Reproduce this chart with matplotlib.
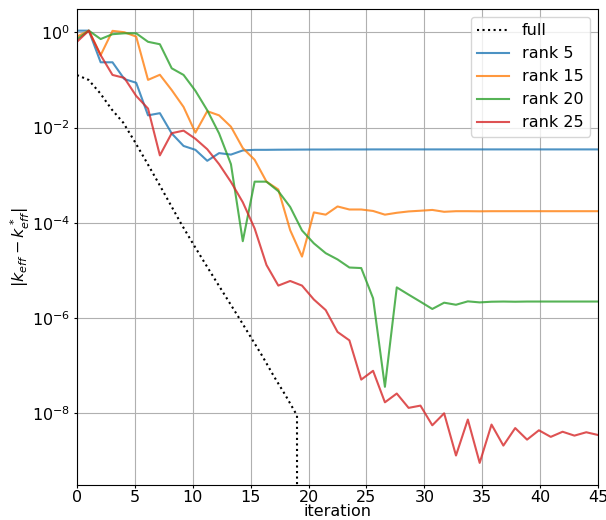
import matplotlib
matplotlib.use("Agg")
import matplotlib.pyplot as plt
import numpy as np

# iterations of the full solve (last entry hits exactly zero)
it_full = np.arange(21)
err_full = [0.126, 0.1, 0.0525, 0.024, 0.0126, 0.005, 0.0019, 7.1e-4, 2.6e-4, 9.5e-5,
            3.7e-5, 1.48e-5, 6.0e-6, 2.45e-6, 1.0e-6, 4.0e-7, 1.6e-7, 6.0e-8, 2.4e-8,
            9.0e-9, 0.0]

# low-rank runs share one x grid
it_rank = np.linspace(0, 45, 45)

err_r5 = [1.08, 1.08, 0.234, 0.234, 0.104, 0.087, 0.018, 0.020, 0.0075, 0.0041,
          0.0034, 0.0020, 0.0029, 0.0027, 0.0033, 0.0034, 0.0034, 0.00342, 0.00343,
          0.00344, 0.00345, 0.00345, 0.00346, 0.00346, 0.00346, 0.00347, 0.00347,
          0.00347, 0.00347, 0.00347, 0.00347, 0.00347, 0.00347, 0.00347, 0.00347,
          0.00347, 0.00347, 0.00347, 0.00347, 0.00347, 0.00347, 0.00347, 0.00347,
          0.00347, 0.00347]

err_r15 = [0.81, 1.08, 0.33, 1.07, 1.0, 0.81, 0.10, 0.128, 0.061, 0.027,
           0.0078, 0.022, 0.018, 0.0104, 0.0037, 0.0021, 7.3e-4, 5.0e-4, 7.0e-5, 1.95e-5,
           1.65e-4, 1.48e-4, 2.2e-4, 1.9e-4, 1.9e-4, 1.77e-4, 1.48e-4, 1.62e-4, 1.73e-4, 1.79e-4,
           1.86e-4, 1.7e-4, 1.75e-4, 1.75e-4, 1.74e-4, 1.75e-4, 1.75e-4, 1.75e-4, 1.75e-4, 1.75e-4,
           1.75e-4, 1.75e-4, 1.75e-4, 1.75e-4, 1.75e-4]

err_r20 = [0.71, 1.08, 0.72, 0.91, 0.95, 0.95, 0.63, 0.56, 0.175, 0.127,
           0.059, 0.023, 0.0075, 0.0017, 4.1e-5, 7.3e-4, 7.3e-4, 4.6e-4, 2.15e-4, 6.9e-5,
           3.7e-5, 2.3e-5, 1.7e-5, 1.15e-5, 1.12e-5, 2.6e-6, 3.6e-8, 4.4e-6, 3.1e-6, 2.2e-6,
           1.55e-6, 2.1e-6, 1.9e-6, 2.24e-6, 2.13e-6, 2.2e-6, 2.22e-6, 2.2e-6, 2.22e-6, 2.22e-6,
           2.22e-6, 2.22e-6, 2.22e-6, 2.22e-6, 2.22e-6]

err_r25 = [0.63, 1.08, 0.33, 0.127, 0.11, 0.046, 0.025, 0.0026, 0.0076, 0.0086,
           0.0058, 0.0035, 0.0017, 7.2e-4, 2.7e-4, 7.6e-5, 1.3e-5, 4.8e-6, 6.0e-6, 4.8e-6,
           2.45e-6, 1.47e-6, 5.1e-7, 3.4e-7, 5.1e-8, 7.8e-8, 1.7e-8, 2.6e-8, 1.3e-8, 1.45e-8,
           5.6e-9, 1.0e-8, 1.3e-9, 7.4e-9, 9.1e-10, 5.8e-9, 2.1e-9, 4.9e-9, 2.8e-9, 4.4e-9,
           3.2e-9, 4.1e-9, 3.4e-9, 4.0e-9, 3.5e-9]

plt.rcParams['font.size'] = 11.5

fig, ax = plt.subplots(figsize=(6.06, 5.2), dpi=100)
fig.subplots_adjust(left=0.127, right=0.987, top=0.983, bottom=0.067)

ax.plot(it_full, err_full, 'k:', linewidth=1.5, label='full')
ax.plot(it_rank, err_r5, color='tab:blue', alpha=0.8, linewidth=1.5, label='rank 5')
ax.plot(it_rank, err_r15, color='tab:orange', alpha=0.8, linewidth=1.5, label='rank 15')
ax.plot(it_rank, err_r20, color='tab:green', alpha=0.8, linewidth=1.5, label='rank 20')
ax.plot(it_rank, err_r25, color='tab:red', alpha=0.8, linewidth=1.5, label='rank 25')

ax.set_yscale('log')
ax.set_xlim(0, 45)
ax.set_ylim(3.1e-10, 3.1)
ax.tick_params(axis='x', length=2, pad=1.5)
ax.tick_params(axis='y', which='major', length=2.5, pad=2.5)
ax.tick_params(axis='y', which='minor', length=0)
ax.set_xlabel('iteration', labelpad=-1)
ax.set_ylabel(r'$|k_{eff} - k^*_{eff}|$', labelpad=0)
ax.grid(True, which='major', linewidth=0.8)
ax.legend(loc='upper right')

plt.savefig('out.png')
